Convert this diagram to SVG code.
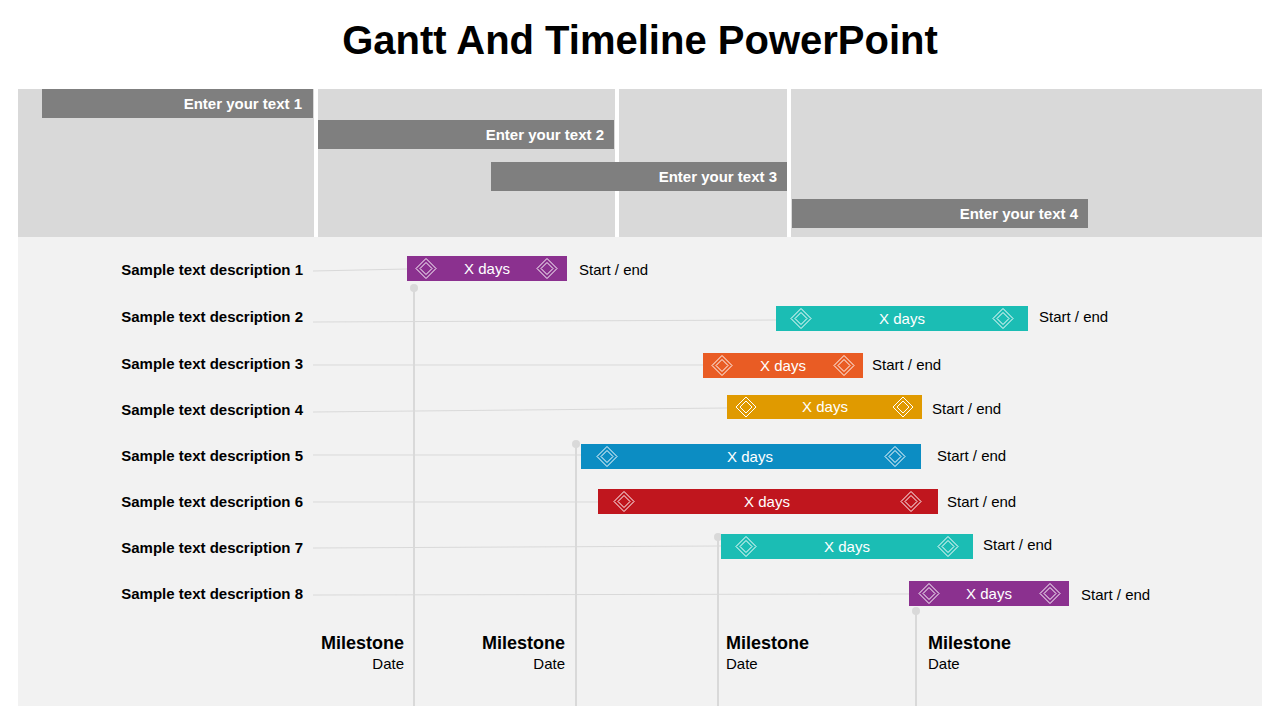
<svg xmlns="http://www.w3.org/2000/svg" width="1280" height="720" viewBox="0 0 1280 720">
<defs>
<style>
text{font-family:"Liberation Sans",Arial,sans-serif}
.title{font-size:40px;font-weight:bold;fill:#000}
.hb{fill:#7F7F7F}
.ht{font-size:15px;font-weight:bold;fill:#fff;text-anchor:end}
.desc{font-size:15px;font-weight:bold;fill:#000;text-anchor:end}
.se{font-size:15px;fill:#000}
.xd{font-size:15px;fill:#fff;text-anchor:middle}
.row{stroke:#D9D9D9;stroke-width:1}
.ms{stroke:#D9D9D9;stroke-width:2}
.dot{fill:#D9D9D9}
.mt{font-size:18px;font-weight:bold;fill:#000}
.md{font-size:15px;fill:#000}
.dia{fill:none;stroke:#fff;stroke-width:1}
</style>
<g id="dm"><path class="dia" d="M0,-10 L10,0 L0,10 L-10,0 Z"/><path class="dia" d="M0,-6 L6,0 L0,6 L-6,0 Z"/></g>
</defs>
<rect width="1280" height="720" fill="#fff"/>
<text class="title" x="640" y="54" text-anchor="middle">Gantt And Timeline PowerPoint</text>
<rect x="18" y="89" width="1244" height="148" fill="#D9D9D9"/>
<rect x="18" y="237" width="1244" height="469" fill="#F2F2F2"/>
<g fill="#fff"><rect x="314" y="89" width="4" height="148"/><rect x="615" y="89" width="4" height="148"/><rect x="787" y="89" width="4" height="148"/></g>
<g id="h1"><rect class="hb" x="42" y="89" width="271" height="29"/><text class="ht" x="302" y="109">Enter your text 1</text></g>
<g id="h2"><rect class="hb" x="318" y="120" width="296" height="29"/><text class="ht" x="604" y="140">Enter your text 2</text></g>
<g id="h3"><rect class="hb" x="491" y="162" width="296" height="29"/><text class="ht" x="777" y="182">Enter your text 3</text></g>
<g id="h4"><rect class="hb" x="792" y="199" width="296" height="29"/><text class="ht" x="1078" y="219">Enter your text 4</text></g>
<g id="connectors">
<line class="row" x1="313" y1="271" x2="407" y2="269"/>
<line class="row" x1="313" y1="322" x2="776" y2="320"/>
<line class="row" x1="313" y1="365" x2="703" y2="365"/>
<line class="row" x1="313" y1="412" x2="727" y2="408"/>
<line class="row" x1="313" y1="455" x2="581" y2="455"/>
<line class="row" x1="313" y1="502" x2="598" y2="502"/>
<line class="row" x1="313" y1="548" x2="721" y2="546"/>
<line class="row" x1="313" y1="595" x2="909" y2="594"/>
<line class="ms" x1="414" y1="288" x2="414" y2="706"/><circle class="dot" cx="414" cy="288" r="4"/>
<line class="ms" x1="576" y1="444" x2="576" y2="706"/><circle class="dot" cx="576" cy="444" r="4"/>
<line class="ms" x1="718" y1="537" x2="718" y2="706"/><circle class="dot" cx="718" cy="537" r="4"/>
<line class="ms" x1="916" y1="611" x2="916" y2="706"/><circle class="dot" cx="916" cy="611" r="4"/>
</g>
<g id="r1"><text class="desc" x="303" y="275">Sample text description 1</text><rect x="407" y="256" width="160" height="25" fill="#8B318F"/><use href="#dm" x="426" y="268.5"/><use href="#dm" x="547" y="268.5"/><text class="xd" x="487" y="274">X days</text><text class="se" x="579" y="275">Start / end</text></g>
<g id="r2"><text class="desc" x="303" y="322">Sample text description 2</text><rect x="776" y="306" width="252" height="25" fill="#1BBDB4"/><use href="#dm" x="801" y="318.5"/><use href="#dm" x="1003" y="318.5"/><text class="xd" x="902" y="324">X days</text><text class="se" x="1039" y="322">Start / end</text></g>
<g id="r3"><text class="desc" x="303" y="369">Sample text description 3</text><rect x="703" y="353" width="160" height="25" fill="#E95C24"/><use href="#dm" x="722" y="365.5"/><use href="#dm" x="844" y="365.5"/><text class="xd" x="783" y="371">X days</text><text class="se" x="872" y="370">Start / end</text></g>
<g id="r4"><text class="desc" x="303" y="415">Sample text description 4</text><rect x="727" y="395" width="195" height="24" fill="#E09A00"/><use href="#dm" x="746" y="407"/><use href="#dm" x="903" y="407"/><text class="xd" x="825" y="412">X days</text><text class="se" x="932" y="414">Start / end</text></g>
<g id="r5"><text class="desc" x="303" y="461">Sample text description 5</text><rect x="581" y="444" width="340" height="25" fill="#0C8DC3"/><use href="#dm" x="607" y="456.5"/><use href="#dm" x="895" y="456.5"/><text class="xd" x="750" y="462">X days</text><text class="se" x="937" y="461">Start / end</text></g>
<g id="r6"><text class="desc" x="303" y="507">Sample text description 6</text><rect x="598" y="489" width="340" height="25" fill="#C0161E"/><use href="#dm" x="624" y="501.5"/><use href="#dm" x="911" y="501.5"/><text class="xd" x="767" y="507">X days</text><text class="se" x="947" y="507">Start / end</text></g>
<g id="r7"><text class="desc" x="303" y="553">Sample text description 7</text><rect x="721" y="534" width="252" height="25" fill="#1BBDB4"/><use href="#dm" x="746" y="546.5"/><use href="#dm" x="948" y="546.5"/><text class="xd" x="847" y="552">X days</text><text class="se" x="983" y="550">Start / end</text></g>
<g id="r8"><text class="desc" x="303" y="599">Sample text description 8</text><rect x="909" y="581" width="160" height="25" fill="#8B318F"/><use href="#dm" x="929" y="593.5"/><use href="#dm" x="1050" y="593.5"/><text class="xd" x="989" y="599">X days</text><text class="se" x="1081" y="600">Start / end</text></g>
<g id="m1"><text class="mt" x="404" y="649" text-anchor="end">Milestone</text><text class="md" x="404" y="669" text-anchor="end">Date</text></g>
<g id="m2"><text class="mt" x="565" y="649" text-anchor="end">Milestone</text><text class="md" x="565" y="669" text-anchor="end">Date</text></g>
<g id="m3"><text class="mt" x="726" y="649">Milestone</text><text class="md" x="726" y="669">Date</text></g>
<g id="m4"><text class="mt" x="928" y="649">Milestone</text><text class="md" x="928" y="669">Date</text></g>
</svg>
